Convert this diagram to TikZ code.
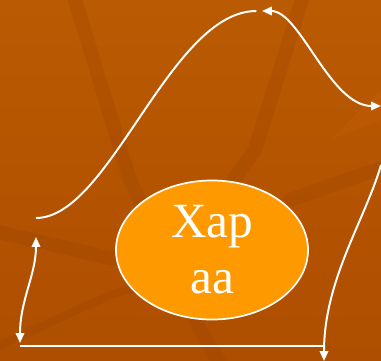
\documentclass[tikz,border=0pt]{standalone}
\usepackage{xcolor}
\usepackage{tikz}
\usepackage{fontspec}
\setmainfont{Liberation Serif}
\usetikzlibrary{shapes.geometric, arrows.meta, positioning}
\definecolor{bgtop}{RGB}{186, 90, 2}
\definecolor{bgbot}{RGB}{174, 78, 0}
\definecolor{streak}{RGB}{150, 62, 0}
\definecolor{hubfill}{RGB}{255, 153, 0}

\begin{document}
\begin{tikzpicture}[x=0.025cm, y=-0.025cm,
  band/.style={line width=0.35cm, streak, opacity=0.22, line cap=round, line join=round},
  curve/.style={draw=white, line width=1.4pt},
  tip/.style={-{Triangle[width=6pt, length=7pt]}},
  tips/.style={{Triangle[width=6pt, length=7pt]}-{Triangle[width=6pt, length=7pt]}},
  hub/.style={draw=white, ellipse, line width=1.2pt, fill=hubfill, minimum width=4.8cm, minimum height=3.15cm, text=white, font=\fontsize{35}{40}\selectfont, align=center},
]
  % Background
  \useasboundingbox (0,0) rectangle (381,361);
  \shade[top color=bgtop, bottom color=bgbot] (0,0) rectangle (381,361);
  \fill[bgtop!85!orange, opacity=0.35] (381,120) -- (330,140) -- (381,90) -- cycle;
  \draw[band] (72,-10) -- (130,180) -- (200,330) -- (225,371);
  \draw[band] (305,-10) -- (255,150) -- (215,205);
  \draw[band] (-10,230) -- (110,258) -- (200,272);
  \draw[band] (290,200) -- (381,168);
  \draw[band, line width=0.2cm] (-10,350) -- (110,295) -- (200,270);

  % Centre
  \node[hub] (hub) at (212,250) {Хар\\аа};

  % Curve ends
  \coordinate (start) at (36,218);
  \coordinate (peak) at (262,11);
  \coordinate (east) at (381,106);
  \coordinate (upper) at (36,237);
  \coordinate (corner) at (20,343);
  \coordinate (base) at (20,346);
  \coordinate (baseend) at (324,346);
  \coordinate (edge) at (381,165);
  \coordinate (drop) at (324,361);

  % Curves
  \draw[curve] (start) .. controls (110,218) and (170,11) .. ([xshift=-4]peak);
  \draw[curve, tips] (peak) .. controls (300,11) and (330,106) .. (east);
  \draw[curve, tips] (upper) .. controls (36,275) and (20,300) .. (corner);
  \draw[curve] (base) -- (baseend);
  \draw[curve, tip] (edge) .. controls (365,220) and (324,280) .. (drop);
\end{tikzpicture}
\end{document}
